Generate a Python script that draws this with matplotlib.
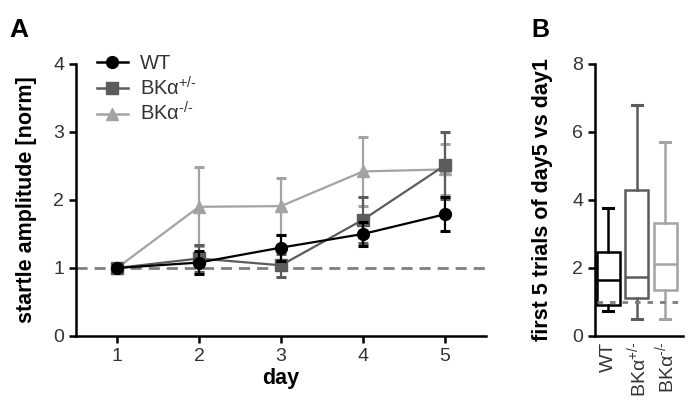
import matplotlib
matplotlib.use('Agg')
import matplotlib.pyplot as plt
from matplotlib.lines import Line2D

plt.rcParams['font.family'] = ['Liberation Sans', 'DejaVu Sans']
plt.rcParams['mathtext.fontset'] = 'custom'
plt.rcParams['mathtext.rm'] = 'Liberation Sans'
plt.rcParams['mathtext.it'] = 'Liberation Sans:italic'
plt.rcParams['mathtext.bf'] = 'Liberation Sans:bold'

# ---- Data panel A ----
days = [1, 2, 3, 4, 5]
wt_mean = [1.0, 1.08, 1.30, 1.50, 1.79]
wt_err = [0.0, 0.17, 0.19, 0.18, 0.25]
het_mean = [1.0, 1.14, 1.04, 1.71, 2.51]
het_err = [0.0, 0.20, 0.17, 0.34, 0.49]
ko_mean = [1.0, 1.90, 1.91, 2.42, 2.45]
ko_err = [0.0, 0.58, 0.42, 0.51, 0.37]
series_labels = ['WT', r'BKα$^{\text{+/-}}$', r'BKα$^{\text{-/-}}$']

# ---- Data panel B (box stats) ----
box_labels = ['WT', r'BKα$^{\text{+/-}}$', r'BKα$^{\text{-/-}}$']
whis_lo = [0.73, 0.51, 0.51]
q1 = [0.90, 1.13, 1.36]
median = [1.65, 1.73, 2.12]
q3 = [2.47, 4.28, 3.33]
whis_hi = [3.76, 6.80, 5.72]

c_wt = '#000000'
c_het = '#5c5c5c'
c_ko = '#a3a3a3'
c_dash = '#7f7f7f'

W, H = 693, 403
fig = plt.figure(figsize=(W / 100, H / 100), dpi=100)

# ---------------- Panel A ----------------
axA = fig.add_axes([76 / W, 1 - 336 / H, (486 - 76) / W, 272 / H])
axA.set_xlim(0.5, 5.5)
axA.set_ylim(0, 4)
axA.axhline(1, color=c_dash, lw=2, ls=(0, (4, 2.5)), zorder=1)

common = dict(lw=1.6, elinewidth=1.6, capsize=3.8, capthick=2.2)
axA.errorbar(days, ko_mean, yerr=ko_err, color=c_ko, marker='^', ms=8.5,
             label=series_labels[2], zorder=2, **common)
axA.errorbar(days, het_mean, yerr=het_err, color=c_het, marker='s', ms=8,
             label=series_labels[1], zorder=3, **common)
axA.errorbar(days, wt_mean, yerr=wt_err, color=c_wt, marker='o', ms=8.5,
             label=series_labels[0], zorder=4, **common)

for s in ['top', 'right']:
    axA.spines[s].set_visible(False)
for s in ['left', 'bottom']:
    axA.spines[s].set_linewidth(1.8)
axA.set_xticks(days)
axA.set_yticks([0, 1, 2, 3, 4])
axA.tick_params(width=1.8, length=5, labelsize=14, colors='#000000',
                labelcolor='#333333')
axA.set_xlabel('day', fontsize=15.5, fontweight='bold', labelpad=2)
axA.set_ylabel('startle amplitude [norm]', fontsize=15.5, fontweight='bold',
               labelpad=12)

handles = [
    Line2D([], [], color=c_wt, marker='o', ms=8.5, lw=1.8),
    Line2D([], [], color=c_het, marker='s', ms=8, lw=1.8),
    Line2D([], [], color=c_ko, marker='^', ms=8.5, lw=1.8),
]
axA.legend(handles, series_labels, loc='upper left',
           bbox_to_anchor=(0.05, 1.035), frameon=False, fontsize=14.5,
           handlelength=1.55, handletextpad=0.6, labelspacing=0.12,
           borderpad=0, borderaxespad=0, labelcolor='#333333')

# ---------------- Panel B ----------------
axB = fig.add_axes([595 / W, 1 - 336 / H, (683 - 595) / W, 272 / H])
axB.set_xlim(0.54, 3.62)
axB.set_ylim(0, 8)
axB.plot([0.62, 3.62], [1, 1], color=c_dash, lw=2, ls=(0, (2, 2.5)), zorder=4)

stats = []
for i in range(3):
    stats.append(dict(whislo=whis_lo[i], q1=q1[i], med=median[i],
                      q3=q3[i], whishi=whis_hi[i], fliers=[], label=box_labels[i]))
positions = [1, 2, 3]
bp = axB.bxp(stats, positions=positions, widths=0.8, showfliers=False,
             patch_artist=True, capwidths=0.36)
for i, col in enumerate([c_wt, c_het, c_ko]):
    bp['boxes'][i].set_facecolor('none')
    bp['boxes'][i].set_edgecolor(col)
    bp['boxes'][i].set_linewidth(1.8)
    bp['boxes'][i].set_zorder(2)
    bp['medians'][i].set_color(col)
    bp['medians'][i].set_linewidth(1.8)
    bp['medians'][i].set_zorder(3)
    for k in (2 * i, 2 * i + 1):
        bp['whiskers'][k].set_color(col)
        bp['whiskers'][k].set_linewidth(1.8)
        bp['caps'][k].set_color(col)
        bp['caps'][k].set_linewidth(2.2)

for s in ['top', 'right']:
    axB.spines[s].set_visible(False)
for s in ['left', 'bottom']:
    axB.spines[s].set_linewidth(1.8)
axB.set_yticks([0, 2, 4, 6, 8])
axB.set_xticks(positions)
axB.set_xticklabels(box_labels, rotation=90)
axB.tick_params(axis='y', width=1.8, length=5, labelsize=14, labelcolor='#333333')
axB.tick_params(axis='x', length=0, labelsize=14, labelcolor='#333333', pad=4)
axB.set_ylabel('first 5 trials of day5 vs day1', fontsize=15.5,
               fontweight='bold', labelpad=14)

fig.text(9 / W, 1 - 37 / H, 'A', fontsize=19, fontweight='bold', va='baseline')
fig.text(531 / W, 1 - 37 / H, 'B', fontsize=18, fontweight='bold', va='baseline')

fig.savefig('out.png', dpi=100)
